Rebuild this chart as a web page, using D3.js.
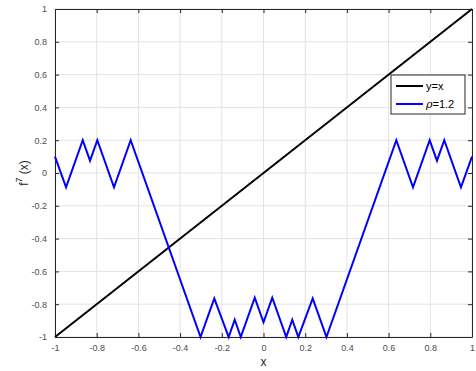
<!DOCTYPE html>
<html>
<head>
<meta charset="utf-8">
<script src="https://cdn.jsdelivr.net/npm/d3@7"></script>
<style>
  body { margin: 0; background: #fff; }
  svg { display: block; font-family: "Liberation Sans", Arial, sans-serif; }
</style>
</head>
<body>
<svg id="chart" width="476" height="371"></svg>
<script>
// data
const xTicks = [-1, -0.8, -0.6, -0.4, -0.2, 0, 0.2, 0.4, 0.6, 0.8, 1];
const yTicks = [-1, -0.8, -0.6, -0.4, -0.2, 0, 0.2, 0.4, 0.6, 0.8, 1];
const identityX = [-1, 1];
const identityY = [-1, 1];
// vertices of the piecewise-linear f^7, left half (curve is symmetric)
const leftX = [-1, -0.947, -0.867, -0.832, -0.797, -0.717, -0.637, -0.302, -0.236, -0.167, -0.138, -0.109, -0.042, 0];
const leftY = [0.1, -0.087, 0.2, 0.075, 0.2, -0.087, 0.2, -1, -0.765, -1, -0.895, -1, -0.76, -0.91];
const legendLabels = ["y=x", "\u03C1=1.2"];

//размеры и отступы
const margin = { top: 9, right: 4, bottom: 34, left: 55 };
const width = 476 - margin.left - margin.right;
const height = 371 - margin.top - margin.bottom;

const svg = d3.select("#chart");
const chart = svg.append("g").attr("transform", `translate(${margin.left},${margin.top})`);

const x = d3.scaleLinear().domain([-1, 1]).range([0, width]);
const y = d3.scaleLinear().domain([-1, 1]).range([height, 0]);

//сетка
chart.append("g")
  .selectAll("line.gx")
  .data(xTicks)
  .enter().append("line")
  .attr("x1", d => x(d)).attr("x2", d => x(d))
  .attr("y1", 0).attr("y2", height)
  .attr("stroke", "#e3e3e3").attr("stroke-width", 1);
chart.append("g")
  .selectAll("line.gy")
  .data(yTicks)
  .enter().append("line")
  .attr("y1", d => y(d)).attr("y2", d => y(d))
  .attr("x1", 0).attr("x2", width)
  .attr("stroke", "#e3e3e3").attr("stroke-width", 1);

//оси
const fmt = d => d3.format("")(d).replace("\u2212", "-");
const styleAxis = g => {
  g.select(".domain").attr("stroke", "#262626");
  g.selectAll(".tick line").attr("stroke", "#262626");
  g.selectAll("text").style("font-size", "9px").style("fill", "#4d4d4d");
};
chart.append("g").attr("transform", `translate(0,${height})`)
  .call(d3.axisBottom(x).tickValues(xTicks).tickFormat(fmt).tickSizeInner(-4).tickSizeOuter(0).tickPadding(8))
  .call(styleAxis);
chart.append("g")
  .call(d3.axisLeft(y).tickValues(yTicks).tickFormat(fmt).tickSizeInner(-4).tickSizeOuter(0).tickPadding(8))
  .call(styleAxis);
chart.append("g")
  .call(d3.axisTop(x).tickValues(xTicks).tickFormat("").tickSizeInner(-4).tickSizeOuter(0))
  .call(styleAxis);
chart.append("g").attr("transform", `translate(${width},0)`)
  .call(d3.axisRight(y).tickValues(yTicks).tickFormat("").tickSizeInner(-4).tickSizeOuter(0))
  .call(styleAxis);

//подписи осей
chart.append("text")
  .attr("x", width / 2).attr("y", height + 29)
  .attr("text-anchor", "middle")
  .style("font-size", "12px").style("fill", "#262626")
  .text("x");
const yl = chart.append("text")
  .attr("transform", `translate(-27,${height / 2}) rotate(-90)`)
  .attr("text-anchor", "middle")
  .style("font-size", "12px").style("fill", "#262626");
yl.append("tspan").text("f");
yl.append("tspan").attr("dy", -6).style("font-size", "9px").text("7");
yl.append("tspan").attr("dy", 6).text(" (x)");

//линии
const line = d3.line().x(d => x(d[0])).y(d => y(d[1]));
const identity = identityX.map((v, i) => [v, identityY[i]]);
const left = leftX.map((v, i) => [v, leftY[i]]);
const right = left.slice(0, -1).reverse().map(d => [-d[0], d[1]]);
const curve = left.concat(right);

chart.append("path").datum(identity)
  .attr("d", line).attr("fill", "none")
  .attr("stroke", "#000").attr("stroke-width", 2);
chart.append("path").datum(curve)
  .attr("d", line).attr("fill", "none")
  .attr("stroke", "#0000ff").attr("stroke-width", 2)
  .attr("stroke-linejoin", "miter");

//легенда
const lg = svg.append("g").attr("transform", "translate(391,75)");
lg.append("rect").attr("width", 74).attr("height", 39)
  .attr("fill", "#fff").attr("stroke", "#262626").attr("stroke-width", 1);
const colors = ["#000", "#0000ff"];
legendLabels.forEach((lab, i) => {
  const yy = 11 + i * 18;
  lg.append("line").attr("x1", 5).attr("x2", 32).attr("y1", yy).attr("y2", yy)
    .attr("stroke", colors[i]).attr("stroke-width", 2);
  const t = lg.append("text").attr("x", 35).attr("y", yy + 4)
    .style("font-size", "11px").style("fill", "#000");
  if (i === 1) {
    t.append("tspan").style("font-style", "italic").style("font-family", "'DejaVu Serif', serif").text("\u03C1");
    t.append("tspan").text("=1.2");
  } else {
    t.text(lab);
  }
});
</script>
</body>
</html>
